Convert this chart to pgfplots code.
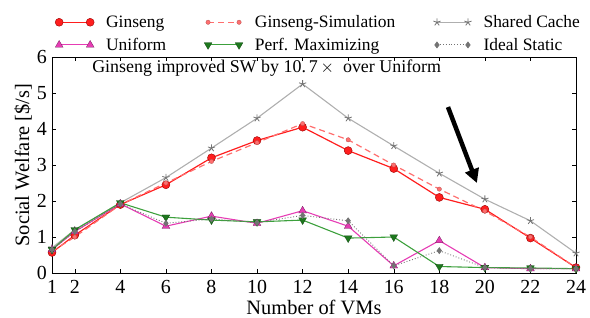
\documentclass[border=0pt]{standalone}
\usepackage{pgfplots}
\pgfplotsset{compat=1.18}
\usepackage{fontspec}
\setmainfont{Liberation Serif}
\usetikzlibrary{arrows.meta}
\definecolor{gred}{RGB}{255,30,30}
\definecolor{gsim}{RGB}{255,110,110}
\definecolor{sgray}{RGB}{175,175,175}
\definecolor{sgdark}{RGB}{115,115,115}
\definecolor{umag}{RGB}{230,60,180}
\definecolor{pgreen}{RGB}{60,160,60}
\definecolor{pdark}{RGB}{30,120,30}
\begin{document}
\begin{tikzpicture}
\begin{axis}[
  scale only axis,
  width=524bp, height=216bp,
  xmin=1, xmax=24, ymin=0, ymax=6,
  xtick={1,2,4,6,8,10,12,14,16,18,20,22,24},
  ytick={0,1,2,3,4,5,6},
  tick align=inside,
  tick style={black, thin},
  major tick length=4bp,
  axis line style={black, thin},
  tick label style={font=\fontsize{20}{22}\selectfont},
  /pgf/number format/assume math mode=true,
  xticklabel style={inner sep=0pt, yshift=-7bp},
  yticklabel style={inner sep=0pt, xshift=-5bp},
  xlabel={Number of VMs},
  ylabel={Social Welfare [\$/s]},
  label style={font=\fontsize{20.5}{22}\selectfont},
  xlabel style={at={(axis description cs:0.5,-0.194)}, anchor=base},
  ylabel style={at={(axis description cs:-0.0553,0.5)}, anchor=center},
  legend columns=3,
  legend style={at={(axis description cs:0,1)}, anchor=south west, yshift=1bp, xshift=0bp,
    draw=none, fill=none,
    font=\fontsize{17.5}{19}\selectfont,
    /tikz/every even column/.append style={column sep=36bp},
    /tikz/every odd column/.append style={column sep=10bp},
    row sep=5bp},
  legend cell align=left,
  legend image code/.code={\draw[#1] plot coordinates {(0bp,0bp) (31bp,0bp)};},
  clip=false,
]
\addplot[gred, line width=1.2pt, mark=*, mark size=4pt, mark options={fill=gred, draw=red!60!black, line width=0.4pt}]
coordinates {(1,0.57)(2,1.05)(4,1.9)(6,2.45)(8,3.2)(10,3.68)(12,4.05)(14,3.4)(16,2.9)(18,2.1)(20,1.77)(22,0.97)(24,0.15)};
\addlegendentry{Ginseng}
\addplot[gsim, line width=1.2pt, dash pattern=on 6bp off 4bp, mark=*, mark size=2.2pt, mark options={solid, fill=gsim, draw=gsim!70!black, line width=0.3pt}]
coordinates {(1,0.6)(2,1.0)(4,1.9)(6,2.5)(8,3.1)(10,3.62)(12,4.15)(14,3.7)(16,3.0)(18,2.33)(20,1.72)(22,1.0)(24,0.15)};
\addlegendentry{Ginseng-Simulation}
\addplot[sgray, line width=1.1pt, mark=star, mark size=3.8pt, mark options={draw=sgdark, line width=0.8pt}]
coordinates {(1,0.7)(2,1.2)(4,1.95)(6,2.65)(8,3.47)(10,4.3)(12,5.25)(14,4.3)(16,3.53)(18,2.77)(20,2.05)(22,1.45)(24,0.55)};
\addlegendentry{Shared Cache}
\addplot[umag, line width=1.1pt, mark=triangle*, mark size=4.5pt, mark options={fill=umag, draw=umag!50!black, line width=0.3pt}]
coordinates {(1,0.65)(2,1.15)(4,1.92)(6,1.3)(8,1.58)(10,1.38)(12,1.73)(14,1.3)(16,0.2)(18,0.9)(20,0.15)(22,0.12)(24,0.12)};
\addlegendentry{Uniform}
\addplot[pgreen, line width=1.1pt, mark=triangle*, mark size=4.5pt, mark options={rotate=180, fill=pdark, draw=pdark!60!black, line width=0.3pt}]
coordinates {(1,0.65)(2,1.2)(4,1.95)(6,1.55)(8,1.47)(10,1.42)(12,1.47)(14,0.97)(16,1.0)(18,0.18)(20,0.15)(22,0.14)(24,0.12)};
\addlegendentry{Perf. Maximizing}
\addplot[sgdark, line width=0.9pt, dotted, mark=diamond*, mark size=2.8pt, mark options={solid, fill=sgdark, draw=sgdark}]
coordinates {(1,0.65)(2,1.15)(4,1.92)(6,1.38)(8,1.5)(10,1.4)(12,1.6)(14,1.45)(16,0.2)(18,0.62)(20,0.15)(22,0.12)(24,0.12)};
\addlegendentry{Ideal Static}
\node[anchor=west, inner sep=0pt, font=\fontsize{18}{20}\selectfont] at (axis cs:2.76,5.69) {Ginseng improved SW by 10.$\,$7$\,\times$\ \ over Uniform};
\draw[line width=4.5bp, -{Triangle[length=14bp, width=14bp]}] (axis cs:18.38,4.61) -- (axis cs:19.65,2.5);
\end{axis}
\pgfresetboundingbox
\path ([shift={(-52bp,-45bp)}]current axis.south west) rectangle ([shift={(14bp,57bp)}]current axis.north east);
\end{tikzpicture}
\end{document}
